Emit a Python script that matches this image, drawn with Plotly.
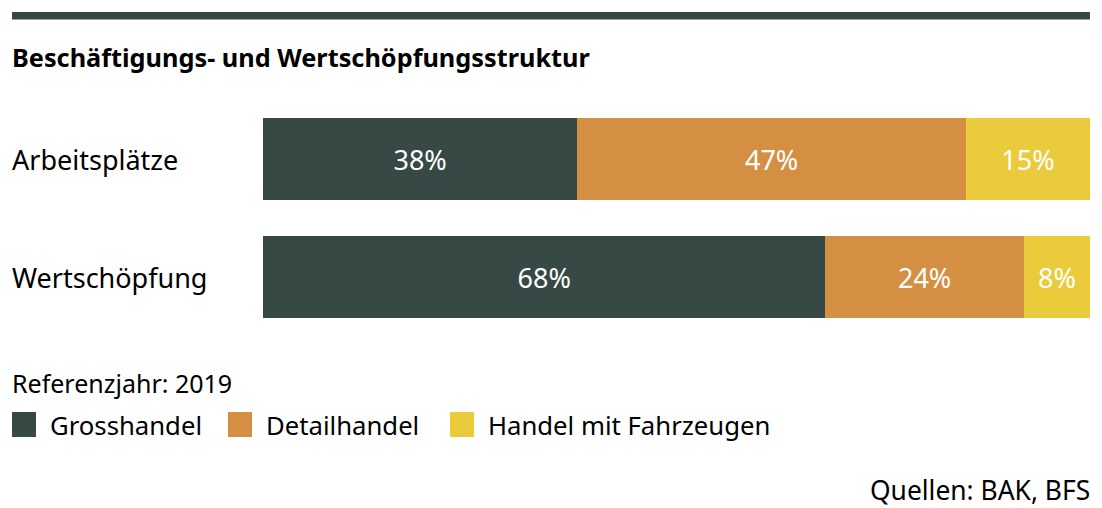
import plotly.graph_objects as go

categories = ["Arbeitsplätze", "Wertschöpfung"]
series_names = ["Grosshandel", "Detailhandel", "Handel mit Fahrzeugen"]
grosshandel = [38, 68]
detailhandel = [47, 24]
fahrzeuge = [15, 8]
colors = ["#364944", "#d58f43", "#eacb3c"]
title = "Beschäftigungs- und Wertschöpfungsstruktur"
note = "Referenzjahr: 2019"
source = "Quellen: BAK, BFS"

FONT = "Noto Sans"
FS = 25
W, H = 1102, 508
ML, MR, MT, MB = 263, 12, 100, 172
PW = W - ML - MR
PH = H - MT - MB


def px_x(p):
    return (p - ML) / PW


def px_y(p):
    return (H - MB - p) / PH


fig = go.Figure()
for name, vals, col in zip(series_names, [grosshandel, detailhandel, fahrzeuge], colors):
    fig.add_trace(go.Bar(
        y=categories, x=vals, name=name, orientation="h",
        marker=dict(color=col, line=dict(width=0)),
        text=[f"{v}%" for v in vals], textposition="inside",
        insidetextanchor="middle",
        textfont=dict(color="white", size=27, family=FONT),
        showlegend=False, hoverinfo="skip",
    ))

fig.update_layout(
    width=W, height=H, barmode="stack", bargap=0.305,
    margin=dict(l=ML, r=MR, t=MT, b=MB),
    paper_bgcolor="white", plot_bgcolor="white",
    font=dict(family=FONT, color="black"),
    xaxis=dict(range=[0, 100], visible=False, fixedrange=True),
    yaxis=dict(autorange="reversed", showticklabels=False, showgrid=False,
               zeroline=False, ticks=""),
    uniformtext=dict(mode=False),
)

# top rule
fig.add_shape(type="rect", xref="paper", yref="paper",
              x0=px_x(12), x1=px_x(1090), y0=px_y(19.5), y1=px_y(12),
              fillcolor=colors[0], line=dict(width=0))

annos = []
annos.append(dict(text=f"<b>{title}</b>", x=px_x(10), y=px_y(57), xref="paper", yref="paper",
                  xanchor="left", yanchor="middle", showarrow=False,
                  font=dict(size=25.3, family=FONT, color="black")))
for c in categories:
    annos.append(dict(text=c, x=px_x(10), y=c, xref="paper", yref="y",
                      xanchor="left", yanchor="middle", showarrow=False,
                      font=dict(size=27, family=FONT, color="black")))
annos.append(dict(text=note, x=px_x(10), y=px_y(383), xref="paper", yref="paper",
                  xanchor="left", yanchor="middle", showarrow=False,
                  font=dict(size=FS, family=FONT, color="black")))
annos.append(dict(text=source, x=px_x(1092), y=px_y(490), xref="paper", yref="paper",
                  xanchor="right", yanchor="middle", showarrow=False,
                  font=dict(size=26.4, family=FONT, color="black")))

legend_sq_x = [12, 228, 450]
for name, col, sx in zip(series_names, colors, legend_sq_x):
    fig.add_shape(type="rect", xref="paper", yref="paper",
                  x0=px_x(sx), x1=px_x(sx + 24), y0=px_y(437), y1=px_y(412),
                  fillcolor=col, line=dict(width=0))
    annos.append(dict(text=name, x=px_x(sx + 36), y=px_y(426), xref="paper", yref="paper",
                      xanchor="left", yanchor="middle", showarrow=False,
                      font=dict(size=25.7, family=FONT, color="black")))

fig.update_layout(annotations=annos)
fig.write_html("out.html")
